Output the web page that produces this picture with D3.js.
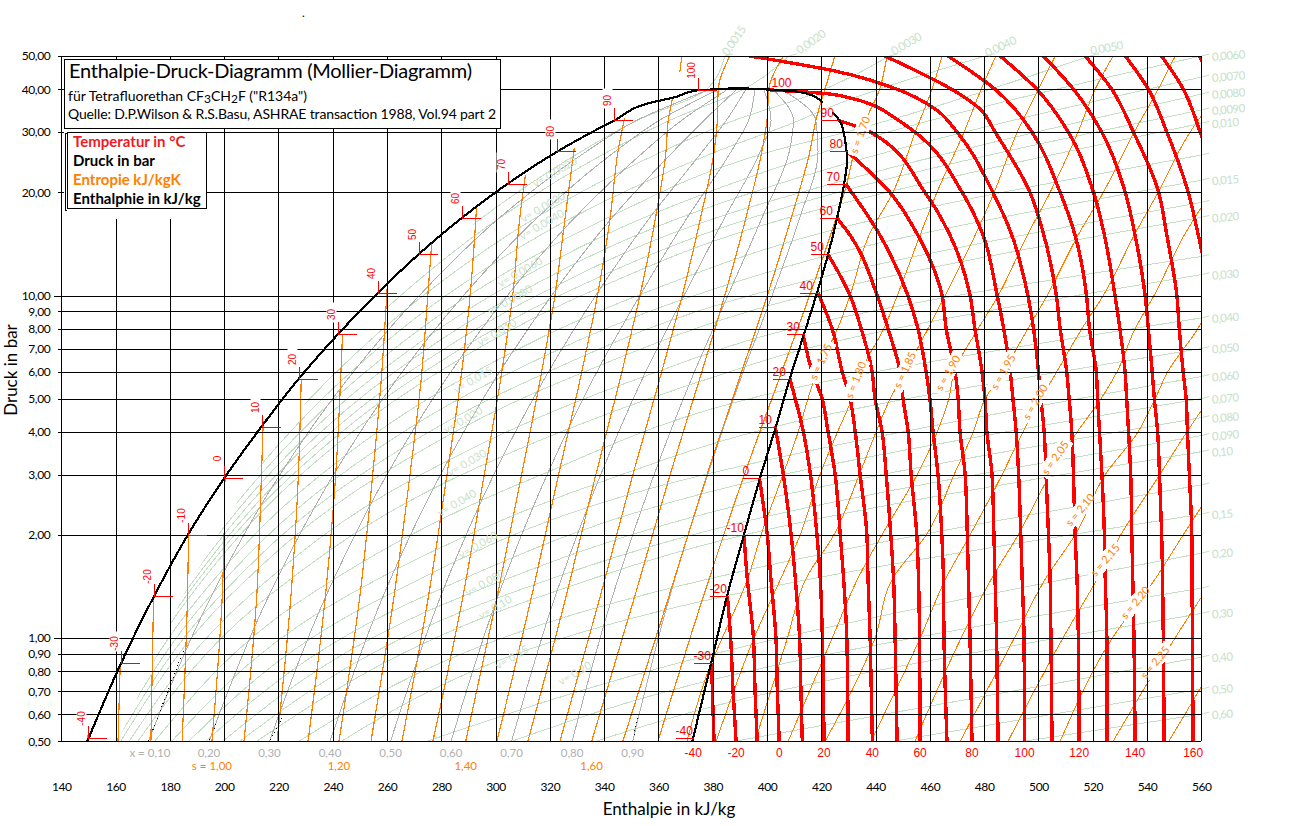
<!DOCTYPE html>
<html lang="de">
<head>
<meta charset="utf-8">
<title>Enthalpie-Druck-Diagramm R134a</title>
<script src="https://cdn.jsdelivr.net/npm/d3@7"></script>
<style>
  html, body { margin: 0; background: #fff; }
  svg { display: block; font-family: Lato, "Open Sans", sans-serif; }
  .crisp path, .crisp line, .crisp rect { shape-rendering: crispEdges; }
</style>
</head>
<body>
<svg id="chart" width="1295" height="826"></svg>
<script>
"use strict";
// R134a log p-h chart. All curve values: p in bar, h in kJ/kg.

const H_TICKS = d3.range(140, 561, 20);
const P_TICKS = [50, 40, 30, 20, 10, 9, 8, 7, 6, 5, 4, 3, 2, 1, 0.9, 0.8, 0.7, 0.6, 0.5];

// saturation curve, one entry per temperature label
const SAT_T = [-40, -30, -20, -10, 0, 10, 20, 30, 40, 50, 60, 70, 80, 90, 100];
const SAT_P = [0.512, 0.844, 1.327, 2.006, 2.928, 4.146, 5.717, 7.702, 10.17, 13.18, 16.82, 21.17, 26.33, 32.44, 39.7];
const LIQ_H = [149.8, 162, 174.2, 186.7, 200, 213.8, 227.5, 241.9, 256.6, 271.6, 287.5, 304.4, 322.8, 343.8, 374.5];
const VAP_H = [372.8, 379.4, 385.3, 391.5, 397.4, 403.3, 408.4, 413.6, 418.4, 422.5, 425.8, 428.4, 429.5, 426.2, 408];

const LIQUID_LINE = [[0.5, 149.6], [0.844, 162], [1.327, 174.2], [2.006, 186.7], [2.928, 200], [4.146, 213.8], [5.717, 227.5], [7.702, 241.9], [10.17, 256.6], [13.18, 271.6], [16.82, 287.5], [21.17, 304.4], [26.33, 322.8], [32.44, 343.8], [36.5, 356.9], [37.9, 366], [39.7, 374.5], [40, 382], [40.3, 389]];
const DOME_TOP = [[40.3, 389], [39.9, 401], [39.1, 413.3], [36.5, 420.6]];
const VAPOUR_LINE = [[34.3, 424], [32.1, 427], [28, 428.9], [24.85, 429.5], [21.17, 428.4], [16.82, 425.8], [13.18, 422.5], [10.17, 418.4], [7.7, 413.6], [5.72, 408.4], [4.15, 403.3], [2.93, 397.4], [2, 391.5], [1.33, 385.3], [0.844, 379.4], [0.5, 372.5]];

// isotherms in the vapour region, [p, h]
const ISOTHERMS = [
  [-30, [[0.844, 379.6], [0.65, 380], [0.5, 380.5]]],
  [-20, [[1.33, 385.4], [1, 386.6], [0.7, 387.5], [0.5, 388.6]]],
  [-10, [[2, 391.5], [1.5, 392.7], [1, 395], [0.7, 395.6], [0.5, 396.4]]],
  [0, [[2.93, 397.2], [2, 400.1], [1.5, 401.4], [1, 403.3], [0.7, 403.8], [0.5, 404.5]]],
  [10, [[4.15, 403], [3, 406], [2, 408.9], [1.5, 410.4], [1, 412], [0.7, 412.5], [0.5, 413]]],
  [20, [[5.72, 408.4], [5, 410.4], [4, 413.4], [3, 416], [2, 418.4], [1.5, 419.6], [1, 420.4], [0.5, 421]]],
  [30, [[7.7, 413.3], [6, 416.6], [5, 420.3], [4, 422.5], [3, 425.1], [2, 427], [1.5, 428.2], [1, 429.4], [0.5, 429.9]]],
  [40, [[10.17, 418.8], [8, 424], [6, 427.7], [5, 430.6], [4, 432.5], [3, 434.3], [2, 436.8], [1.5, 437.2], [1, 438], [0.5, 438.8]]],
  [50, [[13.18, 422.5], [10, 430.6], [8, 434.7], [6, 438.7], [5, 439.8], [4, 442.4], [3, 443.9], [2, 445.6], [1.5, 446.6], [1, 447.2], [0.5, 447.9]]],
  [60, [[16.82, 425.8], [15, 430.6], [10, 440.6], [8, 444.6], [6, 449], [5, 450.1], [4, 452], [3, 453.1], [2, 455.2], [1.5, 455.8], [1, 456.2], [0.5, 456.4]]],
  [70, [[21.17, 429], [15, 441.6], [10, 451.9], [8, 455.6], [6, 458.6], [5, 460], [4, 461.2], [3, 463], [2, 464.4], [1.5, 465], [1, 465.2], [0.5, 466.3]]],
  [80, [[26.33, 429.5], [20, 445.3], [15, 455.6], [10, 464.5], [8, 466], [6, 469.3], [5, 470.4], [4, 471.1], [3, 473], [2, 473.8], [1.5, 474.2], [1, 474.8], [0.5, 475.5]]],
  [90, [[32.44, 426.2], [30, 438], [20, 458.2], [15, 467.4], [10, 474.8], [8, 476.6], [6, 479.2], [5, 480.3], [4, 481], [3, 482.9], [2, 483.6], [1.5, 484], [1, 484.6], [0.5, 485.1]]],
  [100, [[39.8, 401], [38.9, 420.7], [37.7, 430.6], [35.5, 440.6], [33.2, 446.5], [30, 454.5], [20, 471.9], [15, 479.6], [10, 484.8], [8, 487.2], [6, 489.6], [5, 490.6], [4, 491.8], [3, 492.7], [2, 493.5], [1.5, 494], [1, 494.7], [0.5, 494.9]]],
  [110, [[50, 393.6], [45, 426.1], [40, 447.9], [35, 462], [30, 470], [20, 483.2], [15, 490.2], [10, 496.1], [8, 498.2], [6, 500], [5, 500.9], [4, 502.1], [3, 502.8], [2, 503.7], [1.5, 504.3], [1, 504.6], [0.5, 505]]],
  [120, [[50, 443.4], [45, 455.6], [40, 468], [35, 478.5], [30, 484], [20, 496.9], [15, 502], [10, 506.6], [8, 508], [6, 510.4], [5, 511.3], [4, 512.3], [3, 512.9], [2, 513.5], [1.5, 514.2], [1, 514.7], [0.5, 515]]],
  [130, [[50, 466.7], [45, 475.3], [40, 484], [35, 491.3], [30, 497.6], [20, 508], [15, 513.5], [10, 517.7], [8, 518.8], [6, 521.3], [5, 521.8], [4, 522.5], [3, 523.4], [2, 524.3], [1.5, 524.6], [1, 525.2], [0.5, 525.3]]],
  [140, [[50, 485.9], [40, 499.4], [30, 511], [20, 520.3], [15, 524.3], [10, 528.2], [8, 530], [6, 531.9], [5, 532.5], [4, 533.2], [3, 534], [2, 534.4], [1, 535.2], [0.5, 535.6]]],
  [150, [[50, 501.8], [40, 512.9], [30, 523.3], [20, 532], [15, 535.6], [10, 539.3], [8, 540.5], [6, 541.9], [5, 542.7], [4, 543.9], [3, 544.6], [2, 545.4], [1, 546], [0.5, 546.3]]],
  [160, [[50, 517.2], [40, 527], [30, 535], [20, 544.3], [15, 547.3], [10, 551], [8, 551.9], [6, 553.3], [5, 554.4], [4, 554.9], [3, 555.6], [2, 556.5], [1, 556.7], [0.5, 557]]],
  [170, [[50, 532], [40, 540.5], [30, 547.3], [20, 555.2], [15, 558.9], [10, 563.6]]],
  [180, [[50, 545.3], [40, 553.4], [30, 559.6], [20, 567]]],
  [190, [[50, 559.3], [40, 566]]],
];
const BOTTOM_T = [-40, -20, 0, 20, 40, 60, 80, 100, 120, 140, 160];

// wet-region rows shared by entropy, quality and volume lines
const WET_P = [0.5, 1.327, 2.928, 5.717, 10.17, 16.82, 26.33, 32.44, 39.7];

// isentropes below the saturation curve: h at WET_P rows, then the end of the line
const WET_S = [0.80, 0.85, 0.90, 0.95, 1.00, 1.05, 1.10, 1.15, 1.20, 1.25, 1.30, 1.35, 1.40, 1.45, 1.50, 1.55, 1.60, 1.65, 1.70];
const WET_S_H = [
  [149.5], [160.9], [173], [184.5, 186.5], [195.5, 199.3], [207.3, 212, 213.7], [219.5, 224.6, 227.3],
  [230.9, 237.3, 241], [242.3, 250, 254.6, 257.9], [254.1, 262.6, 268.3, 272.6, 275.1], [265.5, 275.3, 281.9, 287.2, 290.7],
  [276.9, 288, 295.6, 301.9, 306.4, 308.9], [289, 300.6, 309.3, 316.5, 322, 325.6], [300.5, 313.3, 322.9, 331.2, 337.7, 342.2, 345.1],
  [311.9, 326, 336.6, 345.9, 353.4, 358.9, 362.8, 363.6], [323.7, 338.6, 350.2, 360.5, 369, 375.5, 380.5, 381.7, 382],
  [335.4, 351.3, 363.9, 375.2, 384.7, 392.2, 398.1, 400, 400.6], [346.9, 363.9, 377.5, 389.8, 400.4, 408.9, 415.8, 418],
  [359.8, 376.6, 391.2, 404.5, 416, 425.5],
];
const WET_S_TOP = [
  [[0.53, 150]], [[0.84, 161.7]], [[1.33, 174]], [[2, 186.9]], [[2.93, 200.3]], [[4.3, 214.4]], [[5.72, 228.4]],
  [[7.7, 243.6]], [[11, 260.2]], [[14.3, 276.5]], [[18.1, 293]], [[22.5, 311]], [[27, 329]], [[33, 347.5]], [[37.9, 365.3]],
  [[50, 386.3]], [[50, 406]], [[44.7, 423.2], [50, 425]], [[20, 428.5], [30, 434.3], [40, 441.5], [50, 444.2]],
];
const S_150_TOP = [[50, 368.6], [45, 367.9]];
const S_LABELS_BOTTOM = [1.00, 1.20, 1.40, 1.60];

// isentropes right of the curve, [p, h]
const VAP_S = [
  [1.75, [[50, 464.5], [40, 460.8], [30, 454.6], [20, 446.4], [15, 437.6], [10, 430.6], [8, 426], [6, 418.4], [5, 415.1], [4, 411.5], [3, 405.9], [2, 397.8], [1.5, 393], [1, 383.5], [0.844, 379.4], [0.5, 370.5]]],
  [1.80, [[50, 484.3], [40, 478.9], [30, 472.6], [20, 462.6], [15, 456.4], [10, 448], [8, 443], [6, 434.5], [5, 431.3], [4, 426], [3, 419.5], [2, 412.2], [1.5, 405.2], [1, 395.2], [0.5, 381.3]]],
  [1.85, [[50, 506.2], [40, 500], [30, 492.2], [20, 483.7], [15, 476.7], [10, 465.6], [8, 459.3], [6, 450.9], [5, 445.4], [4, 440.2], [3, 434], [2, 424.6], [1.5, 414.5], [1, 407.5], [0.5, 395.6]]],
  [1.90, [[50, 527.5], [40, 520.9], [30, 514.6], [20, 504.3], [15, 495.9], [10, 485.2], [8, 477.8], [6, 469], [5, 467], [4, 462.7], [3, 455.3], [2, 442.3], [1.5, 433.6], [1, 424], [0.5, 407.8]]],
  [1.95, [[50, 550.4], [40, 544.1], [30, 535.3], [20, 523.9], [15, 514.6], [10, 503.2], [8, 496.1], [6, 487], [5, 480.4], [4, 476], [3, 468.9], [2, 458.7], [1.5, 446.4], [1, 439.8], [0.5, 421.4]]],
  [2.00, [[40, 567.6], [30, 555.9], [20, 544.1], [15, 535.3], [10, 523.9], [8, 516], [6, 506.8], [5, 500.9], [4, 494.3], [3, 486.6], [2, 474.8], [1.5, 466], [1, 456.4], [0.5, 438.3]]],
  [2.05, [[20, 563.6], [15, 553.7], [10, 542.6], [8, 535.6], [6, 529], [5, 523.1], [4, 514.3], [3, 504.3], [2, 492.5], [1.5, 482.9], [1, 471.5], [0.5, 454.5]]],
  [2.10, [[10, 565], [8, 558.7], [6, 547.7], [5, 543], [4, 536.7], [3, 524.6], [2, 513.5], [1.5, 502.8], [1, 491.1], [0.5, 471.2]]],
  [2.15, [[5, 563], [4, 554.7], [3, 544.7], [2, 530.3], [1.5, 521.9], [1, 509], [0.5, 488.8]]],
  [2.20, [[3, 567.7], [2, 553.3], [1.5, 543.3], [1, 527.2], [0.5, 508]]],
  [2.25, [[1.5, 564.7], [1, 550.3], [0.5, 527.5]]],
  [2.30, [[1, 570.7], [0.5, 548]]],
];
const S_TAGS = ["1,70", "1,75", "1,80", "1,85", "1,90", "1,95", "2,00", "2,05", "2,10", "2,15", "2,20", "2,25"];
const S_TAG_H = [434.3, 419.8, 432.7, 450.8, 466.7, 487, 498.8, 506.2, 515.4, 524.6, 535.7, 543];
const S_TAG_P = [29.4, 6.41, 5.67, 6.06, 5.94, 5.98, 4.89, 3.36, 2.37, 1.69, 1.27, 0.85];
const S_TAG_ROT = [-70, -65, -68, -65, -60, -60, -60, -55, -50, -50, -50, -50];

// vapour quality lines, h at WET_P rows
const QUALITY = [0.10, 0.20, 0.30, 0.40, 0.50, 0.60, 0.70, 0.80, 0.90];
const QUALITY_H = [
  [172.1, 195.3, 219.7, 245.6, 272.8, 301.3, 333.5, 352, 378],
  [194.4, 216.4, 239.5, 263.7, 289, 315.2, 344.1, 360.3, 381.5],
  [216.7, 237.5, 259.2, 281.8, 305.1, 329, 354.8, 368.5, 385],
  [239, 258.6, 279, 299.9, 321.3, 342.8, 365.5, 376.8, 388.5],
  [261.3, 279.8, 298.7, 318, 337.5, 356.7, 376.2, 385, 392],
  [283.6, 300.9, 318.4, 336, 353.7, 370.5, 386.8, 393.2, 395.5],
  [305.9, 322, 338.2, 354.1, 369.9, 384.3, 397.5, 401.5, 399],
  [328.2, 343.1, 357.9, 372.2, 386, 398.1, 408.2, 409.7, 402.5],
  [350.5, 364.2, 377.7, 390.3, 402.2, 412, 418.8, 418, 406],
];
// short dotted black stretches on some of the quality lines
const QUALITY_DOTS = [
  [[0.92, 185], [0.5, 172.1]],
  [[0.56, 197], [0.5, 194.4]],
  [[0.6, 222], [0.5, 216.7]],
  [[0.6, 352.5], [0.52, 351]],
];
// left edge of the drawn volume lines (about 5 % quality)
const VOL_EDGE_H = [160.9, 184.8, 209.9, 236.5, 264.7, 294.4, 328.1, 347.9, 376.3];

// specific volume lines: h at WET_P rows, kink on the vapour curve, end of the line
const VOL_TAG = ["0,0015", "0,0020", "0,0030", "0,0040", "0,0050", "0,0060", "0,0070", "0,0080", "0,0090", "0,010", "", "0,015", "", "0,020", "", "0,030", "0,040", "0,050", "0,060", "0,070", "0,080", "0,090", "0,10", "", "0,15", "0,20", "", "0,30", "0,40", "0,50", "0,60"];
const VOL_WET = [
  [150.3, 175.3, 202.1, 231, 261.9, 294.8, 331.6, 352.1, 377.3],
  [150.6, 176, 203.6, 233.6, 266.1, 301.4, 341.6, 364.1, 390.6],
  [151.2, 177.5, 206.5, 238.8, 274.6, 314.6, 361.5, 388],
  [151.9, 178.9, 209.4, 244, 283.1, 327.9, 381.5, 411.9],
  [152.5, 180.3, 212.3, 249.1, 291.6, 341.1, 401.5],
  [153.1, 181.8, 215.2, 254.3, 300, 354.3, 421.5],
  [153.7, 183.2, 218.1, 259.4, 308.5, 367.6],
  [154.4, 184.6, 221, 264.6, 317, 380.9],
  [155, 186, 223.8, 269.8, 325.5, 394],
  [155.6, 187.5, 226.7, 275.1, 333.8, 407.4],
  [157.2, 191.2, 234, 287.9, 354.8],
  [158.8, 194.8, 241.2, 300.9, 376],
  [160.3, 198.4, 248.4, 313.8, 397.2],
  [161.9, 202, 255.7, 326.6],
  [165, 209.2, 270, 352.5],
  [168.2, 216.4, 284.7, 378.4],
  [174.4, 230.8, 313.7],
  [180.7, 245.1, 342.6],
  [187, 259.5, 371.5],
  [193.2, 273.9],
  [199.5, 288.2],
  [205.8, 302.6],
  [212, 317],
  [227.6, 353],
  [243.2],
  [274.7],
  [306],
  [337],
  [388], [446.5], [494.7],
];
const VOL_REST = [
  [[50, 384.5]],
  [[50, 408]],
  [[38.5, 416], [50, 445]],
  [[35, 421.4], [50, 480.4]],
  [[29.9, 428.5], [50, 519]],
  [[27.6, 429.5], [50, 560]],
  [[24.3, 429.3], [43.4, 560]],
  [[21.7, 428.6], [38.7, 560]],
  [[20.2, 428], [34.8, 560]],
  [[18.5, 427], [31.8, 560]],
  [[15.6, 425], [25.7, 560]],
  [[13.1, 422.5], [21.7, 560]],
  [[11.3, 420], [18.7, 560]],
  [[10.17, 418.4], [16.9, 560]],
  [[8.2, 414.6], [13, 560]],
  [[6.9, 411.5], [11.5, 560]],
  [[5.3, 407], [8.6, 560]],
  [[4.15, 403.3], [7, 560]],
  [[3.3, 399.5], [5.8, 560]],
  [[2.9, 397.4], [5, 560]],
  [[2.5, 395], [4.4, 560]],
  [[2.2, 393], [3.9, 560]],
  [[2, 391.5], [3.5, 560]],
  [[1.55, 388], [2.8, 560]],
  [[1.33, 385.3], [2.3, 560]],
  [[0.9, 380.5], [1.77, 560]],
  [[0.75, 378], [1.4, 560]],
  [[0.62, 376], [1.18, 560]],
  [[0.88, 560]], [[0.71, 560]], [[0.6, 560]],
];
const TOP_TAG_H = [389, 417, 452, 486.6, 525.3];
const TOP_TAG_P = [54.6, 53.8, 53, 52, 51.4];
const TOP_TAG_ROT = [-55, -35, -30, -25, -10];
// "v= ..." captions inside the dome
const VOL_CAP = ["0,0020", "0,0030", "0,0040", "0,0060", "0,0080", "0,010", "0,015", "0,020", "0,030", "0,040", "0,060", "0,080", "0,10", "0,15", "0,20"];
const VOL_CAP_H = [321.8, 317.4, 317, 309, 305.3, 300.5, 291.7, 288, 289.4, 285.7, 293.5, 296, 299.8, 306, 329.2];
const VOL_CAP_P = [22.9, 18.1, 16.1, 11.7, 9.7, 7.8, 5.67, 4.33, 3.25, 2.48, 1.87, 1.45, 1.23, 0.88, 0.79];

const LEGEND = [["Temperatur in °C", "#ed1c24"], ["Druck in bar", "#000"], ["Entropie kJ/kgK", "#ff8000"], ["Enthalphie in kJ/kg", "#000"]];

const RED = "#ff0000", ORANGE = "#ff7f00", GREY = "#b0b0b0", GREEN = "#c4dfc4", GREEN_TXT = "#c8e0c8";
const comma = (v, n) => v.toFixed(n).replace(".", ",");

const svg = d3.select("#chart");
const x = d3.scaleLinear().domain([140, 560]).range([61.3, 1201.3]);
const y = d3.scaleLog().domain([50, 0.5]).range([56, 741.3]);
const curve = d3.line().x((d) => x(d[1])).y((d) => y(d[0])).curve(d3.curveMonotoneY);
const byPressure = (pts) => pts.slice().sort((a, b) => b[0] - a[0]);
const snap = (v) => Math.round(v) + 0.5;

const defs = svg.append("defs");
defs.append("clipPath").attr("id", "plot").append("rect")
  .attr("x", x(140)).attr("y", y(50)).attr("width", x(560) - x(140)).attr("height", y(0.5) - y(50));
// volume lines only start a little right of the liquid curve
const edge = WET_P.map((p, i) => [x(VOL_EDGE_H[i]), y(p)]);
defs.append("clipPath").attr("id", "vol").append("polygon")
  .attr("points", edge.concat([[x(376.3), 30], [1215, 30], [1215, y(0.5)]]).join(" "));

function strokes(parent, rows, color, width, clip) {
  return parent.append("g").attr("class", "crisp").attr("clip-path", clip ? "url(#" + clip + ")" : null)
    .selectAll("path").data(rows).join("path")
    .attr("d", (d) => curve(byPressure(d))).attr("fill", "none").attr("stroke", color).attr("stroke-width", width);
}
const zip = (hs) => hs.map((h, i) => [WET_P[i], h]);

// ---- curve families, back to front ----
const volRows = VOL_WET.map((hs, i) => zip(hs).concat(VOL_REST[i]));
strokes(svg, volRows, GREEN, 1, "vol");
// small tails leading to the labels on the right and on top
svg.append("g").selectAll("line").data(VOL_REST).join("line")
  .attr("x1", (d) => x(d[d.length - 1][1])).attr("y1", (d) => y(d[d.length - 1][0]))
  .attr("x2", (d) => x(d[d.length - 1][1]) + 8).attr("y2", (d) => y(d[d.length - 1][0]) - 2)
  .attr("stroke", GREEN).attr("stroke-width", 1);

strokes(svg, QUALITY_H.map(zip), GREY, 1, "plot");
strokes(svg, QUALITY_DOTS, "#000", 1, "plot").attr("stroke-dasharray", "1 3");

strokes(svg, WET_S_H.map((hs, i) => zip(hs).concat(WET_S_TOP[i])), ORANGE, 1.2, "plot");
strokes(svg, [S_150_TOP], ORANGE, 1.2, "plot");
strokes(svg, VAP_S.map((d) => d[1]), ORANGE, 1, "plot");

strokes(svg, ISOTHERMS.map((d) => d[1]), RED, 3.4, "plot");

// white patches behind the s labels open gaps in the curves
svg.append("g").attr("class", "crisp").selectAll("rect").data(S_TAGS).join("rect")
  .attr("transform", (d, i) => "translate(" + x(S_TAG_H[i]) + "," + y(S_TAG_P[i]) + ") rotate(" + S_TAG_ROT[i] + ")")
  .attr("x", -22).attr("y", -7).attr("width", 44).attr("height", 14).attr("fill", "#fff");

// ---- grid from the axes ----
const gx = svg.append("g").attr("class", "crisp").attr("transform", "translate(0," + y(0.5) + ")")
  .call(d3.axisBottom(x).tickValues(H_TICKS).tickSize(-(y(0.5) - y(50))).tickPadding(41).tickFormat(d3.format("d")));
const gy = svg.append("g").attr("class", "crisp").attr("transform", "translate(" + x(140) + ",0)")
  .call(d3.axisLeft(y).tickValues(P_TICKS).tickSize(-(x(560) - x(140))).tickPadding(11).tickFormat((d) => comma(d, 2)));
gx.select(".domain").remove();
gy.select(".domain").remove();
svg.selectAll(".tick line").attr("stroke", "#000").attr("stroke-width", 1);
svg.selectAll(".tick text").attr("fill", "#000").attr("font-family", "Lato").attr("font-size", 12).attr("letter-spacing", "-0.4px");
gy.selectAll(".tick").append("line").attr("x2", (d) => (d === 10 || d === 1 ? -7 : -3)).attr("stroke", "#000");

// ---- saturation curve ----
strokes(svg, [LIQUID_LINE, DOME_TOP, VAPOUR_LINE], "#000", 2.2, null);

// ---- temperature marks on both branches ----
const tLeft = svg.append("g").selectAll("g").data(SAT_T).join("g")
  .attr("transform", (d, i) => "translate(" + snap(x(LIQ_H[i])) + "," + snap(y(SAT_P[i])) + ")");
tLeft.append("path").attr("class", "hook").attr("d", "M0,-13V0H18").attr("fill", "none").attr("stroke", RED).style("shape-rendering", "crispEdges");
tLeft.append("rect").attr("x", -12).attr("y", -32).attr("width", 10).attr("height", 20).attr("fill", "#fff");
tLeft.append("text").attr("transform", "translate(-7,-20) rotate(-90)").attr("text-anchor", "middle").attr("dy", "0.35em")
  .attr("fill", RED).attr("font-family", "Liberation Sans").attr("font-size", 10).text((d) => d);

const tRight = svg.append("g").selectAll("g").data(SAT_T).join("g")
  .attr("transform", (d, i) => "translate(" + snap(x(VAP_H[i])) + "," + snap(y(SAT_P[i])) + ")");
tRight.filter((d) => d !== 100).append("line").attr("x1", -18).attr("stroke", RED).style("shape-rendering", "crispEdges");
tRight.append("text").attr("x", -18).attr("y", -4).attr("fill", RED).attr("font-family", "Liberation Sans").attr("font-size", 12).text((d) => d);

// ---- rows under the axis ----
const bottomH = (t) => (t === -40 ? VAP_H[0] : ISOTHERMS.find((d) => d[0] === t)[1].slice(-1)[0][1]);
svg.append("g").selectAll("text").data(BOTTOM_T).join("text")
  .attr("x", (d) => x(bottomH(d))).attr("y", 757).attr("text-anchor", "middle")
  .attr("fill", RED).attr("font-family", "Liberation Sans").attr("font-size", 12).text((d) => d);
svg.append("g").selectAll("text").data(QUALITY).join("text")
  .attr("x", (d, i) => x(QUALITY_H[i][0]) - (i === 0 ? 19 : 0)).attr("y", 757).attr("text-anchor", (d, i) => (i === 0 ? "start" : "middle"))
  .attr("fill", "#b0b0b0").attr("font-size", 11.5).text((d, i) => (i === 0 ? "x = " : "") + comma(d, 2));
svg.append("g").selectAll("text").data(S_LABELS_BOTTOM).join("text")
  .attr("x", (d) => x(WET_S_H[WET_S.indexOf(d)][0])).attr("y", 770).attr("text-anchor", "middle")
  .attr("fill", ORANGE).attr("font-size", 11.5).text((d, i) => (i === 0 ? "s = " : "") + comma(d, 2));

// ---- labels along the curves ----
svg.append("g").selectAll("text").data(S_TAGS).join("text")
  .attr("transform", (d, i) => "translate(" + x(S_TAG_H[i]) + "," + y(S_TAG_P[i]) + ") rotate(" + S_TAG_ROT[i] + ")")
  .attr("text-anchor", "middle").attr("dy", "0.35em").attr("fill", ORANGE).attr("font-size", 11).text((d) => "s = " + d);
svg.append("g").selectAll("text").data(VOL_CAP).join("text")
  .attr("transform", (d, i) => "translate(" + x(VOL_CAP_H[i]) + "," + y(VOL_CAP_P[i]) + ") rotate(-30)")
  .attr("text-anchor", "middle").attr("dy", "0.35em").attr("fill", GREEN_TXT).attr("font-size", 11).text((d) => "v= " + d);
svg.append("g").selectAll("text").data(VOL_TAG.slice(0, 5)).join("text")
  .attr("transform", (d, i) => "translate(" + x(TOP_TAG_H[i]) + "," + y(TOP_TAG_P[i]) + ") rotate(" + TOP_TAG_ROT[i] + ")")
  .attr("text-anchor", "middle").attr("fill", GREEN_TXT).attr("font-size", 11.5).attr("letter-spacing", "-0.5px").text((d) => d);
const rightVols = VOL_TAG.map((t, i) => [t, VOL_REST[i][VOL_REST[i].length - 1][0]]).slice(5).filter((d) => d[0]);
svg.append("g").selectAll("text").data(rightVols).join("text")
  .attr("transform", (d) => "translate(" + (x(560) + 11) + "," + (y(d[1]) + 5) + ") rotate(-5)")
  .attr("fill", GREEN_TXT).attr("font-size", 11.5).attr("letter-spacing", "-0.5px").text((d) => d[0]);

// ---- axis titles ----
svg.append("text").attr("transform", "translate(17,370) rotate(-90)").attr("text-anchor", "middle")
  .attr("font-size", 17).attr("fill", "#000").text("Druck in bar");
svg.append("text").attr("x", 669).attr("y", 815).attr("text-anchor", "middle")
  .attr("font-size", 17).attr("fill", "#000").text("Enthalpie in kJ/kg");
svg.append("text").attr("x", 302).attr("y", 17).attr("font-size", 12).attr("fill", "#000").text(".");

// ---- title and legend boxes ----
const boxes = svg.append("g").attr("class", "crisp");
boxes.append("rect").attr("x", 64).attr("y", 128).attr("width", 143).attr("height", 91).attr("fill", "#fff");
boxes.append("rect").attr("x", 64.5).attr("y", 59.5).attr("width", 436).attr("height", 69).attr("fill", "#fff").attr("stroke", "#000");
boxes.append("rect").attr("x", 67.5).attr("y", 132.5).attr("width", 139).attr("height", 76).attr("fill", "#fff").attr("stroke", "#000");
boxes.append("path").attr("d", "M67,133.5H65.5V210H67").attr("fill", "none").attr("stroke", "#000");

svg.append("text").attr("x", 69).attr("y", 78).attr("font-size", 20).attr("fill", "#000").attr("textLength", 403)
  .text("Enthalpie-Druck-Diagramm (Mollier-Diagramm)");
const sub = svg.append("text").attr("x", 68).attr("y", 101).attr("font-size", 14).attr("fill", "#000");
sub.append("tspan").text("für Tetrafluorethan CF");
sub.append("tspan").attr("dy", 2).attr("font-size", 12).text("3");
sub.append("tspan").attr("dy", -2).text("CH");
sub.append("tspan").attr("dy", 2).attr("font-size", 12).text("2");
sub.append("tspan").attr("dy", -2).text('F ("R134a")');
svg.append("text").attr("x", 68).attr("y", 119).attr("font-size", 14).attr("fill", "#000").attr("textLength", 428)
  .text("Quelle: D.P.Wilson & R.S.Basu, ASHRAE transaction 1988, Vol.94 part 2");
svg.append("g").selectAll("text").data(LEGEND).join("text")
  .attr("x", 73).attr("y", (d, i) => 147 + i * 19).attr("font-size", 15).attr("font-weight", 700)
  .attr("fill", (d) => d[1]).text((d) => d[0]);
</script>
</body>
</html>
